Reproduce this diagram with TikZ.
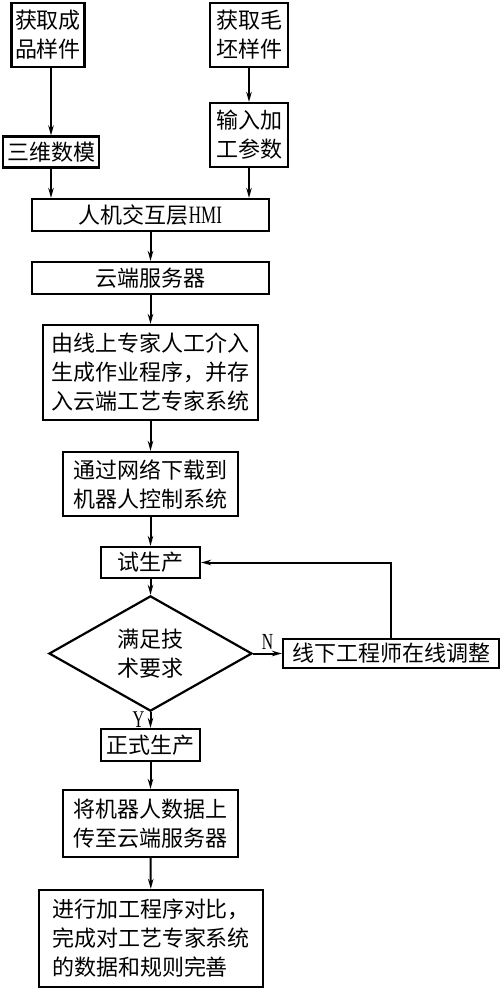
\documentclass[tikz,border=0pt]{standalone}
\usepackage{fontspec}
\newfontfamily\cjk{Noto Sans CJK SC}
\newfontfamily\latin{Liberation Serif}
\usetikzlibrary{arrows.meta,shapes.geometric}
\newcommand{\narrow}[2]{\scalebox{0.68}[1]{\latin\fontsize{#1}{#1}\selectfont #2}}
\tikzset{
  box/.style={draw=black, line width=2.2pt, font=\cjk\fontsize{22}{29}\selectfont, align=left, inner sep=1pt},
  flow/.style={-{Stealth[length=10pt,width=5.5pt]}, line width=2pt},
  lbl/.style={inner sep=1pt},
}
\begin{document}
\begin{tikzpicture}[x=1pt,y=-1pt]
\useasboundingbox (0,0) rectangle (500,988);
\node[box,minimum width=73pt,minimum height=64pt] (get1) at (48,35) {获取成\\品样件};
\node[box,minimum width=78pt,minimum height=64pt] (get2) at (249,35) {获取毛\\坯样件};
\node[box,minimum width=96pt,minimum height=31pt] (model) at (51,152) {三维数模};
\node[box,minimum width=78pt,minimum height=64pt] (param) at (249,135) {输入加\\工参数};
\node[box,minimum width=237pt,minimum height=32pt] (hmi) at (150.5,215) {人机交互层\narrow{25}{HMI}};
\node[box,minimum width=237pt,minimum height=32pt] (cloud) at (150.5,278) {云端服务器};
\node[box,minimum width=215pt,minimum height=95pt] (expert) at (150.5,372.5) {由线上专家人工介入\\生成作业程序，并存\\入云端工艺专家系统};
\node[box,minimum width=175pt,minimum height=64pt] (download) at (150.5,484) {通过网络下载到\\机器人控制系统};
\node[box,minimum width=99pt,minimum height=31pt] (trial) at (150.5,562.5) {试生产};
\node[box,diamond,inner sep=0pt,minimum width=203pt,minimum height=87pt] (decide) at (150.5,653.5) {满足技\\术要求};
\node[box,minimum width=216pt,minimum height=29pt] (adjust) at (391,653.5) {线下工程师在线调整};
\node[box,minimum width=99pt,minimum height=32pt] (formal) at (150.5,745) {正式生产};
\node[box,minimum width=175pt,minimum height=67pt] (upload) at (150.5,823.5) {将机器人数据上\\传至云端服务器};
\node[box,minimum width=224pt,minimum height=97pt] (compare) at (151,938.5) {进行加工程序对比，\\完成对工艺专家系统\\的数据和规则完善};
\draw[flow] (model |- get1.south) -- (model);
\draw[flow] (get2) -- (param);
\draw[flow] (model) -- (model |- hmi.north);
\draw[flow] (param) -- (param |- hmi.north);
\draw[flow] (hmi) -- (cloud);
\draw[flow] (cloud) -- (expert);
\draw[flow] (expert) -- (download);
\draw[flow] (download) -- (trial);
\draw[flow] (trial) -- (decide);
\draw[flow] (decide) -- node[lbl,above,yshift=2pt] {\narrow{23}{N}} (adjust);
\draw[flow] (adjust.north) |- (trial.east);
\draw[flow] (decide) -- node[lbl,left,xshift=-4pt] {\narrow{24}{Y}} (formal);
\draw[flow] (formal) -- (upload);
\draw[flow] (upload) -- (compare);
\end{tikzpicture}
\end{document}
